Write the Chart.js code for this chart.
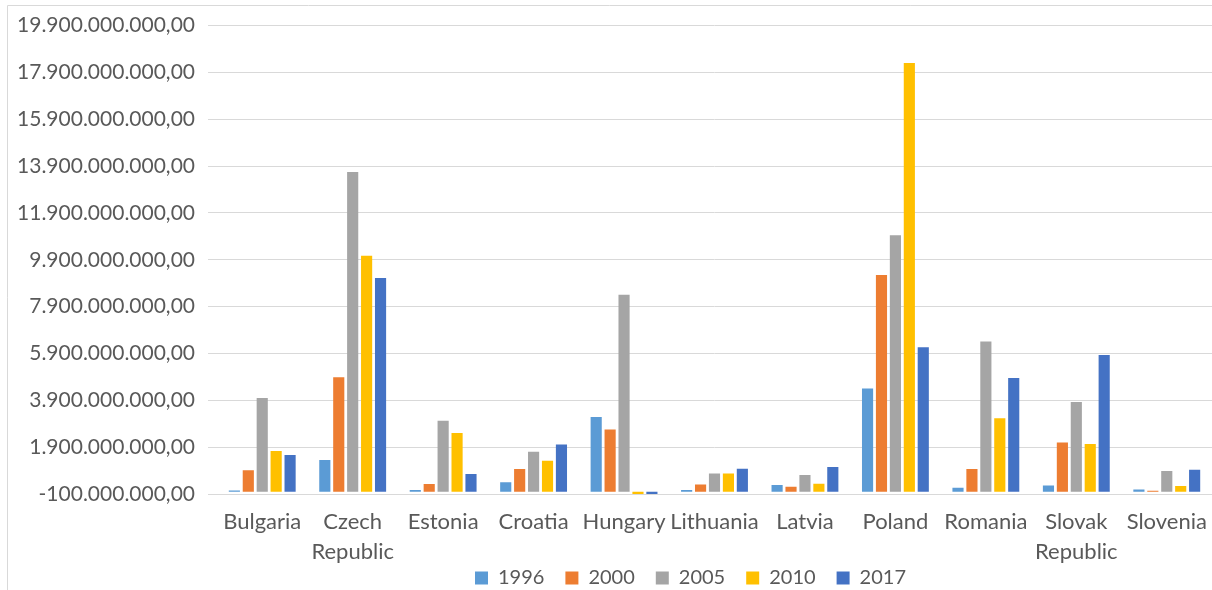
<!DOCTYPE html>
<html>
<head>
<meta charset="utf-8">
<script src="https://cdn.jsdelivr.net/npm/chart.js@4/dist/chart.umd.min.js"></script>
<style>
  html, body { margin: 0; padding: 0; background: #fff; }
  #wrap { width: 1212px; height: 590px; }
</style>
</head>
<body>
<div id="wrap"><canvas id="chart" width="1212" height="590"></canvas></div>
<script>
const countries = ['Bulgaria', ['Czech', 'Republic'], 'Estonia', 'Croatia', 'Hungary', 'Lithuania',
                   'Latvia', 'Poland', 'Romania', ['Slovak', 'Republic'], 'Slovenia'];
const years = ['1996', '2000', '2005', '2010', '2017'];

const v1996 = [0.05e9, 1.35e9, 0.07e9, 0.40e9, 3.19e9, 0.07e9, 0.28e9, 4.40e9, 0.17e9, 0.26e9, 0.09e9];
const v2000 = [0.91e9, 4.89e9, 0.33e9, 0.97e9, 2.65e9, 0.31e9, 0.21e9, 9.25e9, 0.97e9, 2.10e9, 0.04e9];
const v2005 = [4.00e9, 13.65e9, 3.03e9, 1.70e9, 8.41e9, 0.77e9, 0.71e9, 10.95e9, 6.41e9, 3.83e9, 0.88e9];
const v2010 = [1.74e9, 10.07e9, 2.50e9, 1.32e9, -0.25e9, 0.77e9, 0.34e9, 18.30e9, 3.13e9, 2.03e9, 0.24e9];
const v2017 = [1.57e9, 9.12e9, 0.75e9, 2.01e9, -0.25e9, 0.98e9, 1.05e9, 6.17e9, 4.85e9, 5.83e9, 0.94e9];

const yTicks = [-100000000, 1900000000, 3900000000, 5900000000, 7900000000, 9900000000,
                11900000000, 13900000000, 15900000000, 17900000000, 19900000000];

const colors = ['#5B9BD5', '#ED7D31', '#A5A5A5', '#FFC000', '#4472C4'];
const series = [v1996, v2000, v2005, v2010, v2017];

// 19900000000 -> "19.900.000.000,00"
function fmt(v) {
    const neg = v < 0;
    let s = Math.round(Math.abs(v)).toString();
    s = s.replace(/\B(?=(\d{3})+(?!\d))/g, '.');
    return (neg ? '-' : '') + s + ',00';
}

const frame = {
    id: 'frame',
    afterLayout(chart) {
        // legend sits a bit left of the plot centre in the original
        chart.legend.left -= 24;
        chart.legend.right -= 24;
    },
    afterDraw(chart) {
        const ctx = chart.ctx;
        ctx.save();
        ctx.strokeStyle = '#d9d9d9';
        ctx.lineWidth = 1;
        ctx.beginPath();
        ctx.moveTo(7.5, 590);
        ctx.lineTo(7.5, 5.5);
        ctx.lineTo(1212, 5.5);
        ctx.stroke();
        ctx.restore();
    }
};

new Chart(document.getElementById('chart'), {
    type: 'bar',
    data: {
        labels: countries,
        datasets: years.map((y, i) => ({
            label: y,
            data: series[i],
            backgroundColor: colors[i],
            categoryPercentage: 0.77,
            barPercentage: 0.8
        }))
    },
    options: {
        responsive: false,
        animation: false,
        layout: { padding: { top: 14, right: 0, bottom: 0, left: 0 } },
        plugins: {
            legend: {
                position: 'bottom',
                fullSize: false,
                maxHeight: 43,
                labels: { boxWidth: 13, boxHeight: 13, padding: 21, color: '#595959',
                          font: { family: 'Lato', size: 20 } }
            },
            tooltip: { enabled: false }
        },
        scales: {
            x: {
                grid: { display: false },
                border: { color: '#d9d9d9' },
                ticks: { color: '#595959', font: { family: 'Lato', size: 22, lineHeight: 1.35 },
                         padding: 5, maxRotation: 0, autoSkip: false },
                afterFit(scale) {
                    scale.height = 53;
                    scale._computeLabelArea = () => undefined; // let "Republic" run past the axis box
                }
            },
            y: {
                min: -100000000,
                max: 19900000000,
                afterBuildTicks(axis) { axis.ticks = yTicks.map(v => ({ value: v })); },
                grid: { color: '#d9d9d9', tickLength: 9 },
                border: { display: false },
                ticks: { color: '#595959', font: { family: 'Lato', size: 21 }, padding: 13,
                         callback: v => fmt(v) },
                afterFit(scale) { scale.width = 217; }
            }
        }
    },
    plugins: [frame]
});
</script>
</body>
</html>
